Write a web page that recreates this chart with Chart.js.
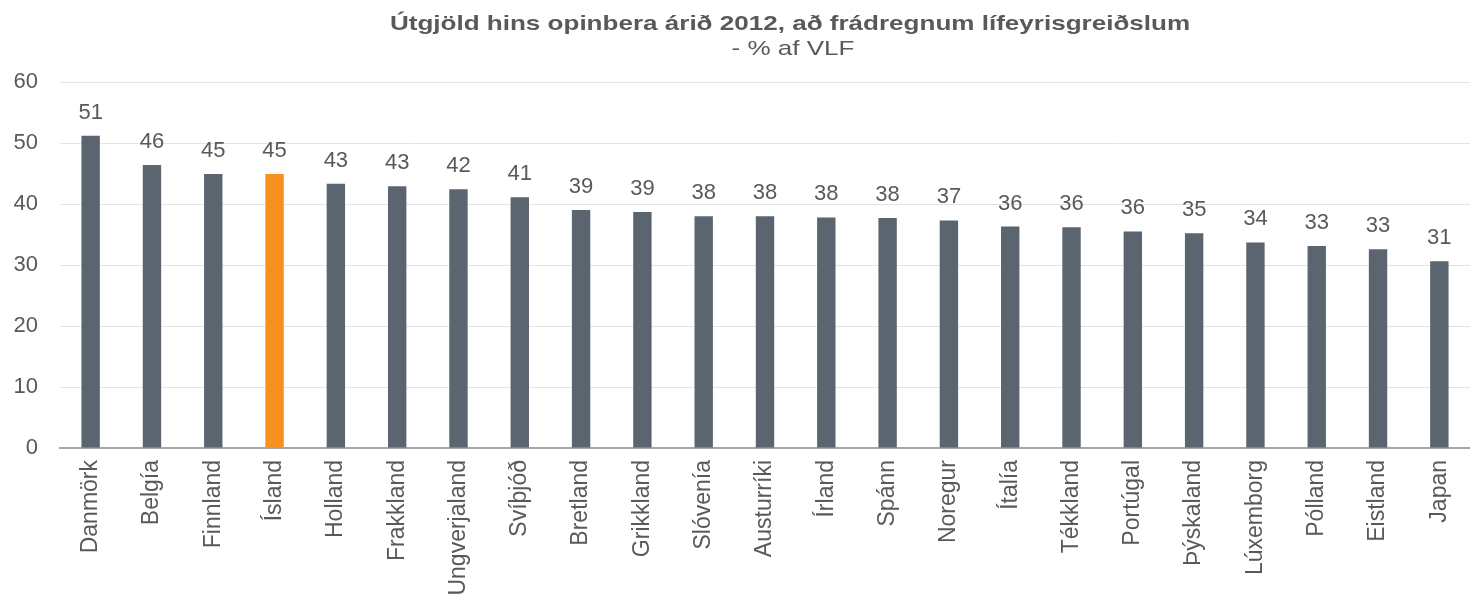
<!DOCTYPE html>
<html>
<head>
<meta charset="utf-8">
<script src="https://cdn.jsdelivr.net/npm/chart.js@4/dist/chart.umd.min.js"></script>
<style>
  html, body { margin: 0; padding: 0; background: #ffffff; }
  #wrap { width: 1470px; height: 604px; }
</style>
</head>
<body>
<div id="wrap"><canvas id="spendChart" width="1470" height="604"></canvas></div>
<script>
// Útgjöld hins opinbera 2012 (% af VLF), án lífeyrisgreiðslna
const countries = ['Danmörk', 'Belgía', 'Finnland', 'Ísland', 'Holland', 'Frakkland', 'Ungverjaland',
  'Svíþjóð', 'Bretland', 'Grikkland', 'Slóvenía', 'Austurríki', 'Írland', 'Spánn', 'Noregur',
  'Ítalía', 'Tékkland', 'Portúgal', 'Þýskaland', 'Lúxemborg', 'Pólland', 'Eistland', 'Japan'];
const spending = [51.2, 46.4, 44.9, 44.9, 43.3, 42.9, 42.4, 41.1, 39.0, 38.7, 38.0, 38.0, 37.8,
  37.7, 37.3, 36.3, 36.2, 35.5, 35.2, 33.7, 33.1, 32.6, 30.6];
const yTicks = [0, 10, 20, 30, 40, 50, 60];
const highlight = 'Ísland';

const textGrey = '#595959';
const fontFam = '"Liberation Sans", Arial, sans-serif';
const barColors = countries.map(c => c === highlight ? '#f7901e' : '#5b6570');

// labels above each bar
const valueLabels = {
  id: 'valueLabels',
  afterDatasetsDraw(chart) {
    const ctx = chart.ctx;
    const meta = chart.getDatasetMeta(0);
    ctx.save();
    ctx.font = '22px ' + fontFam;
    ctx.fillStyle = textGrey;
    ctx.textAlign = 'center';
    ctx.textBaseline = 'alphabetic';
    meta.data.forEach((bar, i) => {
      ctx.fillText(Math.round(spending[i]), bar.x, bar.y - 17);
    });
    ctx.restore();
  }
};

// title is drawn a bit wide, like the original
function wideText(ctx, txt, x, y, sx) {
  ctx.save();
  ctx.translate(x, y);
  ctx.scale(sx, 1);
  ctx.fillText(txt, 0, 0);
  ctx.restore();
}

const titleText = {
  id: 'titleText',
  afterDraw(chart) {
    const ctx = chart.ctx;
    ctx.save();
    ctx.fillStyle = textGrey;
    ctx.textAlign = 'center';
    ctx.textBaseline = 'alphabetic';
    ctx.font = 'bold 21px ' + fontFam;
    wideText(ctx, 'Útgjöld hins opinbera árið 2012, að frádregnum lífeyrisgreiðslum', 790, 30, 1.24);
    ctx.font = '21px ' + fontFam;
    wideText(ctx, '- % af VLF', 793, 55, 1.24);
    ctx.restore();
  }
};

const ctx = document.getElementById('spendChart').getContext('2d');
new Chart(ctx, {
  type: 'bar',
  data: {
    labels: countries,
    datasets: [{
      data: spending,
      backgroundColor: barColors,
      categoryPercentage: 1,
      barPercentage: 0.3
    }]
  },
  options: {
    responsive: false,
    animation: false,
    layout: { padding: { top: 82, left: 0, right: 0, bottom: 0 } },
    plugins: {
      legend: { display: false },
      tooltip: { enabled: false }
    },
    scales: {
      x: {
        afterFit: axis => {
          axis.height = 156;
          axis.paddingLeft = 0;
          axis.paddingRight = 0;
        },
        grid: { display: false, drawTicks: false },
        border: { color: '#a6a6a6', width: 2 },
        ticks: {
          color: textGrey,
          font: { family: fontFam, size: 23 },
          minRotation: 90,
          maxRotation: 90,
          autoSkip: false,
          padding: 12
        }
      },
      y: {
        min: 0,
        max: 60,
        afterBuildTicks: axis => { axis.ticks = yTicks.map(v => ({ value: v })); },
        afterFit: axis => { axis.width = 60; },
        grid: {
          color: c => c.tick && c.tick.value === 0 ? 'rgba(0,0,0,0)' : '#e3e3e3',
          lineWidth: 1,
          drawTicks: false
        },
        border: { display: false },
        ticks: {
          color: textGrey,
          font: { family: fontFam, size: 22 },
          padding: 22
        }
      }
    }
  },
  plugins: [valueLabels, titleText]
});
</script>
</body>
</html>
